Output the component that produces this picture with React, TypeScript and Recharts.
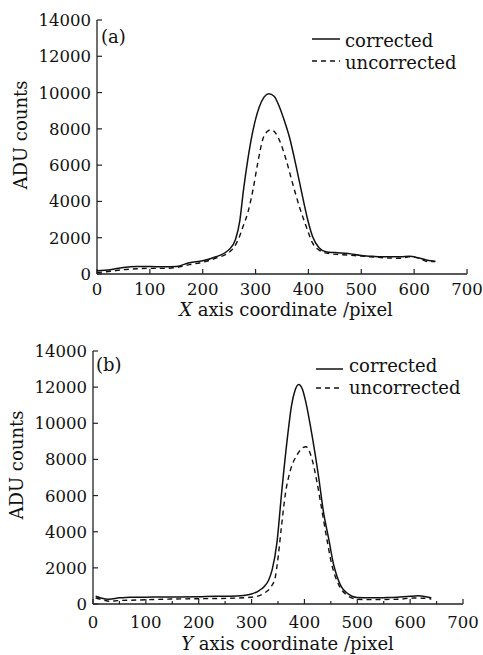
import React from 'react';
import { LineChart, Line, XAxis, YAxis, Legend } from 'recharts';

// ---------- Panel (a): X axis profile ----------
const xA_corrected = [0, 25, 50, 75, 100, 125, 150, 175, 200, 225, 250, 262, 270, 277, 285, 295, 307, 316, 325, 335, 345, 355, 364, 377, 389, 399, 408, 420, 433, 450, 475, 500, 525, 550, 575, 590, 610, 625, 640];
const yA_corrected = [180, 240, 360, 410, 410, 400, 420, 620, 730, 950, 1350, 1900, 2900, 4600, 6250, 7900, 9200, 9750, 9930, 9800, 9220, 8400, 7550, 5900, 4250, 2950, 2050, 1450, 1230, 1180, 1130, 1020, 970, 945, 950, 980, 880, 760, 700];
const xA_uncorrected = [0, 25, 50, 75, 100, 125, 150, 175, 200, 225, 250, 260, 270, 276, 285, 295, 304, 314, 322, 329, 337, 345, 358, 370, 383, 396, 408, 421, 440, 460, 480, 500, 525, 550, 575, 590, 610, 625, 640];
const yA_uncorrected = [80, 150, 240, 290, 310, 310, 360, 520, 650, 870, 1200, 1500, 2100, 2600, 3350, 4630, 6100, 7450, 7850, 7950, 7800, 7380, 6280, 5000, 3700, 2600, 1700, 1300, 1120, 1070, 1030, 990, 930, 880, 870, 950, 860, 690, 680];

// ---------- Panel (b): Y axis profile ----------
const xB_corrected = [5, 15, 30, 50, 70, 100, 130, 160, 200, 230, 260, 285, 300, 315, 325, 332, 339, 348, 357, 367, 376, 382, 389, 396, 402, 414, 427, 436, 446, 455, 462, 470, 480, 490, 500, 525, 550, 575, 600, 615, 630, 640];
const yB_corrected = [430, 330, 260, 340, 380, 380, 390, 390, 400, 430, 430, 470, 550, 760, 1000, 1300, 1900, 3400, 6200, 9000, 11050, 11800, 12150, 11900, 11250, 9400, 7000, 5100, 3600, 2200, 1500, 950, 620, 430, 360, 340, 350, 370, 430, 450, 400, 340];
const xB_uncorrected = [5, 20, 30, 46, 85, 148, 211, 275, 306, 325, 338, 345, 349, 357, 364, 373, 386, 397, 403, 414, 424, 433, 443, 452, 462, 470, 478, 490, 500, 525, 550, 576, 607, 625, 640];
const yB_uncorrected = [330, 220, 150, 185, 220, 275, 295, 330, 400, 620, 1000, 1500, 2300, 4400, 6100, 7350, 8250, 8650, 8700, 8050, 6700, 5200, 3500, 2150, 1250, 800, 550, 330, 260, 240, 250, 260, 330, 320, 280];

// ---------- Axes / labels ----------
const xTicksMajor = [0, 100, 200, 300, 400, 500, 600, 700];
const xTicksWithMinor = [0, 50, 100, 150, 200, 250, 300, 350, 400, 450, 500, 550, 600, 650, 700];
const yTicks = [0, 2000, 4000, 6000, 8000, 10000, 12000, 14000];
const seriesNames = ['corrected', 'uncorrected'];
const yTitle = 'ADU counts';
const xTitleA = ['X', ' axis coordinate /pixel'];
const xTitleB = ['Y', ' axis coordinate /pixel'];
const panelTags = ['(a)', '(b)'];

const zip = (xs: number[], ys: number[]) => xs.map((x, i) => ({ x, y: ys[i] }));

const FONT = 'DejaVu Serif';
const INK = '#111';
const FRAME = '#222';
const TICK_FS = 16.5;

const makeBottomTick = (labelOffset: number) => (props: any) => {
  const { x, y, payload } = props;
  const v = payload.value;
  const major = v % 100 === 0;
  return (
    <g>
      <line x1={x} x2={x} y1={y} y2={y - (major ? 5 : 3)} stroke={FRAME} strokeWidth={1.2} />
      {major && (
        <text x={x} y={y + labelOffset} textAnchor="middle" fontFamily={FONT} fontSize={TICK_FS} fill={INK}>
          {v}
        </text>
      )}
    </g>
  );
};

const LeftTick = (props: any) => {
  const { x, y, payload } = props;
  return (
    <g>
      <line x1={x} x2={x + 5} y1={y} y2={y} stroke={FRAME} strokeWidth={1.2} />
      <text x={x - 6} y={y + 6} textAnchor="end" fontFamily={FONT} fontSize={TICK_FS} fill={INK}>
        {payload.value}
      </text>
    </g>
  );
};

const TopTick = (props: any) => {
  const { x, y } = props;
  return <line x1={x} x2={x} y1={y} y2={y + 3} stroke={FRAME} strokeWidth={1.1} />;
};

const makeLegend = (cfg: { lx0: number; lx1: number; tx: number; y1: number; b1: number; y2: number; b2: number }) => () => (
  <svg width={170} height={60} style={{ overflow: 'visible' }}>
    <line x1={cfg.lx0} x2={cfg.lx1} y1={cfg.y1} y2={cfg.y1} stroke={INK} strokeWidth={1.5} />
    <text x={cfg.tx} y={cfg.b1} fontFamily={FONT} fontSize={18} fill={INK}>{seriesNames[0]}</text>
    <line x1={cfg.lx0} x2={cfg.lx1} y1={cfg.y2} y2={cfg.y2} stroke={INK} strokeWidth={1.5} strokeDasharray="5 4" />
    <text x={cfg.tx} y={cfg.b2} fontFamily={FONT} fontSize={18} fill={INK}>{seriesNames[1]}</text>
  </svg>
);

type PanelProps = {
  width: number;
  height: number;
  margin: { top: number; right: number; bottom: number; left: number };
  yAxisWidth: number;
  xAxisHeight: number;
  corrected: { x: number; y: number }[];
  uncorrected: { x: number; y: number }[];
  bottomTicks: number[];
  tickLabelOffset: number;
  legendPos: { left: number; top: number };
  legendCfg: any;
  tag: string;
  tagPos: [number, number];
  yTitlePos: [number, number];
  xTitle: string[];
  xTitlePos: [number, number];
};

const Panel = (p: PanelProps) => (
  <LineChart width={p.width} height={p.height} margin={p.margin}>
    <XAxis
      dataKey="x"
      type="number"
      domain={[0, 700]}
      ticks={p.bottomTicks}
      interval={0}
      allowDataOverflow
      height={p.xAxisHeight}
      tickSize={0}
      tickMargin={0}
      tickLine={false}
      axisLine={{ stroke: FRAME, strokeWidth: 1.3 }}
      tick={makeBottomTick(p.tickLabelOffset)}
    />
    <XAxis
      xAxisId="top"
      orientation="top"
      dataKey="x"
      type="number"
      domain={[0, 700]}
      ticks={xTicksWithMinor}
      interval={0}
      allowDataOverflow
      height={0}
      tickSize={0}
      tickMargin={0}
      tickLine={false}
      axisLine={{ stroke: FRAME, strokeWidth: 1.3 }}
      tick={TopTick}
    />
    <YAxis
      type="number"
      domain={[0, 14000]}
      ticks={yTicks}
      interval={0}
      allowDataOverflow
      width={p.yAxisWidth}
      tickSize={0}
      tickMargin={0}
      tickLine={false}
      axisLine={{ stroke: FRAME, strokeWidth: 1.3 }}
      tick={LeftTick}
    />
    <YAxis
      yAxisId="right"
      orientation="right"
      type="number"
      domain={[0, 14000]}
      allowDataOverflow
      width={0}
      tick={false}
      tickLine={false}
      axisLine={{ stroke: FRAME, strokeWidth: 1.3 }}
    />
    <Line
      data={p.corrected}
      dataKey="y"
      name={seriesNames[0]}
      type="monotone"
      stroke={INK}
      strokeWidth={1.5}
      dot={false}
      activeDot={false}
      isAnimationActive={false}
    />
    <Line
      data={p.uncorrected}
      dataKey="y"
      name={seriesNames[1]}
      type="monotone"
      stroke={INK}
      strokeWidth={1.4}
      strokeDasharray="5 4"
      dot={false}
      activeDot={false}
      isAnimationActive={false}
    />
    <Legend
      layout="vertical"
      align="center"
      verticalAlign="middle"
      wrapperStyle={{ position: 'absolute', left: p.legendPos.left, top: p.legendPos.top, width: 170, height: 60 }}
      content={makeLegend(p.legendCfg)}
    />
    <text x={p.tagPos[0]} y={p.tagPos[1]} fontFamily={FONT} fontSize={18} fill={INK}>{p.tag}</text>
    <text
      transform={`translate(${p.yTitlePos[0]},${p.yTitlePos[1]}) rotate(-90)`}
      textAnchor="middle"
      fontFamily={FONT}
      fontSize={18}
      fill={INK}
    >
      {yTitle}
    </text>
    <text x={p.xTitlePos[0]} y={p.xTitlePos[1]} textAnchor="middle" fontFamily={FONT} fontSize={18} fill={INK}>
      <tspan fontStyle="italic">{p.xTitle[0]}</tspan>
      <tspan>{p.xTitle[1]}</tspan>
    </text>
  </LineChart>
);

export default function App() {
  return (
    <div style={{ position: 'absolute', left: 0, top: 0, width: 483, height: 655, background: '#fff' }}>
      <div style={{ position: 'absolute', left: 0, top: 0 }}>
        <Panel
          width={483}
          height={327}
          margin={{ top: 20, right: 16, bottom: 0, left: 0 }}
          yAxisWidth={97}
          xAxisHeight={53}
          corrected={zip(xA_corrected, yA_corrected)}
          uncorrected={zip(xA_uncorrected, yA_uncorrected)}
          bottomTicks={xTicksMajor}
          tickLabelOffset={21}
          legendPos={{ left: 310, top: 25 }}
          legendCfg={{ lx0: 2, lx1: 30, tx: 35, y1: 14, b1: 21.5, y2: 36, b2: 43.5 }}
          tag={panelTags[0]}
          tagPos={[101, 43]}
          yTitlePos={[26.5, 135]}
          xTitle={xTitleA}
          xTitlePos={[286, 316]}
        />
      </div>
      <div style={{ position: 'absolute', left: 0, top: 327 }}>
        <Panel
          width={483}
          height={328}
          margin={{ top: 24, right: 20, bottom: 0, left: 0 }}
          yAxisWidth={93}
          xAxisHeight={51}
          corrected={zip(xB_corrected, yB_corrected)}
          uncorrected={zip(xB_uncorrected, yB_uncorrected)}
          bottomTicks={xTicksWithMinor}
          tickLabelOffset={24}
          legendPos={{ left: 314, top: 25 }}
          legendCfg={{ lx0: 2, lx1: 29, tx: 35, y1: 17, b1: 20, y2: 36, b2: 41.5 }}
          tag={panelTags[1]}
          tagPos={[96, 44]}
          yTitlePos={[23, 138]}
          xTitle={xTitleB}
          xTitlePos={[287.5, 322.5]}
        />
      </div>
    </div>
  );
}
